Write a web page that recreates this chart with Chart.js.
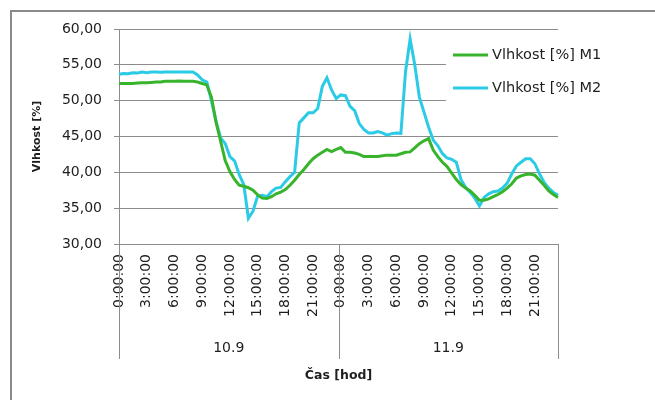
<!DOCTYPE html>
<html>
<head>
<meta charset="utf-8">
<script src="https://cdn.jsdelivr.net/npm/chart.js@4"></script>
<style>
  html, body { margin: 0; padding: 0; background: #fff; }
  #wrap { width: 655px; height: 400px; position: relative; }
</style>
</head>
<body>
<div id="wrap"><canvas id="chart" width="655" height="400"></canvas></div>
<script>
// days and the labelled hours of the time axis
const days = ['10.9', '11.9'];
const tickLabels = ['0:00:00', '3:00:00', '6:00:00', '9:00:00', '12:00:00', '15:00:00', '18:00:00', '21:00:00'];

// readings every 30 minutes, 10.9 0:00 .. 11.9 23:30
const m1 = [
  52.4, 52.4, 52.4, 52.4, 52.45, 52.5, 52.5, 52.55, 52.6, 52.6,
  52.7, 52.7, 52.7, 52.75, 52.7, 52.7, 52.7, 52.6, 52.4, 52.2,
  50.5, 47.0, 44.3, 41.6, 40.1, 39.0, 38.2, 38.05, 37.85, 37.5,
  36.85, 36.4, 36.35, 36.6, 37.0, 37.25, 37.6, 38.2, 38.9, 39.7,
  40.4, 41.2, 41.9, 42.4, 42.8, 43.2, 42.9, 43.2, 43.45, 42.8,
  42.8, 42.7, 42.5, 42.2, 42.2, 42.2, 42.2, 42.3, 42.4, 42.4,
  42.4, 42.6, 42.8, 42.85, 43.4, 44.0, 44.4, 44.7, 43.1, 42.2,
  41.4, 40.8, 39.9, 39.0, 38.3, 37.8, 37.4, 36.8, 36.1, 36.1,
  36.3, 36.6, 36.9, 37.3, 37.8, 38.4, 39.2, 39.5, 39.7, 39.75,
  39.6, 38.9, 38.2, 37.4, 36.9, 36.5
];
const m2 = [
  53.7, 53.8, 53.75, 53.9, 53.85, 54.0, 53.9, 54.0, 54.0, 53.95,
  54.0, 54.0, 54.0, 54.0, 54.0, 54.0, 54.0, 53.6, 52.9, 52.6,
  50.0, 47.1, 44.8, 44.0, 42.2, 41.6, 39.7, 38.3, 33.6, 34.6,
  36.7, 36.8, 36.6, 37.3, 37.8, 37.9, 38.7, 39.4, 40.0, 46.9,
  47.6, 48.3, 48.3, 48.9, 52.0, 53.2, 51.5, 50.3, 50.8, 50.7,
  49.2, 48.6, 46.8, 46.0, 45.5, 45.5, 45.7, 45.5, 45.2, 45.4,
  45.5, 45.45, 54.0, 58.6, 55.0, 50.5, 48.4, 46.3, 44.5, 43.7,
  42.6, 42.0, 41.8, 41.4, 39.0, 37.9, 37.2, 36.4, 35.3, 36.5,
  37.0, 37.3, 37.4, 37.8, 38.5, 39.8, 40.9, 41.4, 41.9, 41.9,
  41.2, 39.8, 38.6, 37.8, 37.2, 36.8
];

// category labels: every half hour of both days
const times = [];
days.forEach(() => {
  for (let h = 0; h < 24; h++) {
    times.push(h + ':00:00');
    times.push(h + ':30:00');
  }
});

const gridGray = '#8c8c8c';
const textColor = '#1e1e1e';
const fontFamily = '"DejaVu Sans", sans-serif';

// frame, day separators and legend box (Excel style)
const decorPlugin = {
  id: 'decor',
  beforeDraw(chart) {
    const ctx = chart.ctx;
    ctx.save();
    ctx.fillStyle = '#fff';
    ctx.fillRect(0, 0, chart.width, chart.height);
    ctx.strokeStyle = '#8a8a8a';
    ctx.lineWidth = 2;
    ctx.beginPath();
    ctx.moveTo(11, chart.height);
    ctx.lineTo(11, 11);
    ctx.lineTo(chart.width, 11);
    ctx.stroke();
    ctx.restore();
  },
  afterDatasetsDraw(chart) {
    const ctx = chart.ctx;
    const x = chart.scales.x;
    const day = chart.scales.day;
    const area = chart.chartArea;
    const mid = (x.getPixelForValue(47) + x.getPixelForValue(48)) / 2;
    ctx.save();
    ctx.strokeStyle = gridGray;
    ctx.lineWidth = 1;
    [area.left, mid, area.right].forEach(px => {
      ctx.beginPath();
      ctx.moveTo(Math.round(px) + 0.5, area.bottom);
      ctx.lineTo(Math.round(px) + 0.5, day.top + 25);
      ctx.stroke();
    });

    // legend over the plot
    ctx.fillStyle = '#fff';
    ctx.fillRect(446, 36, 200, 76);
    ctx.font = '14.5px ' + fontFamily;
    ctx.textBaseline = 'middle';
    chart.data.datasets.forEach((ds, i) => {
      const y = 55 + i * 33;
      ctx.strokeStyle = ds.borderColor;
      ctx.lineWidth = 3;
      ctx.beginPath();
      ctx.moveTo(453, y);
      ctx.lineTo(488, y);
      ctx.stroke();
      ctx.fillStyle = textColor;
      ctx.fillText(ds.label, 492, y);
    });
    ctx.restore();
  }
};

new Chart(document.getElementById('chart'), {
  type: 'line',
  data: {
    labels: times,
    datasets: [
      {
        label: 'Vlhkost [%] M1',
        data: m1,
        borderColor: '#38b42c',
        backgroundColor: '#38b42c',
        borderWidth: 3,
        pointRadius: 0,
        tension: 0,
        fill: false
      },
      {
        label: 'Vlhkost [%] M2',
        data: m2,
        borderColor: '#2bcbe6',
        backgroundColor: '#2bcbe6',
        borderWidth: 3,
        pointRadius: 0,
        tension: 0,
        fill: false
      }
    ]
  },
  options: {
    responsive: false,
    animation: false,
    layout: { padding: { top: 29, right: 97, bottom: 6, left: 0 } },
    plugins: {
      legend: { display: false },
      tooltip: { enabled: false }
    },
    scales: {
      x: {
        type: 'category',
        offset: false,
        weight: 0,
        afterFit(scale) { scale.height = 90; },
        grid: { display: false, drawTicks: false },
        border: { display: false },
        ticks: {
          autoSkip: false,
          minRotation: 90,
          maxRotation: 90,
          padding: 10,
          color: textColor,
          font: { family: fontFamily, size: 14 },
          callback(value, index) {
            const t = times[index];
            return index % 6 === 0 && tickLabels.includes(t) ? t : '';
          }
        }
      },
      day: {
        type: 'category',
        labels: days,
        position: 'bottom',
        offset: true,
        weight: 1,
        afterFit(scale) { scale.height = 60; },
        grid: { display: false, drawTicks: false },
        border: { display: false },
        ticks: {
          autoSkip: false,
          maxRotation: 0,
          padding: 6,
          color: textColor,
          font: { family: fontFamily, size: 14 }
        },
        title: {
          display: true,
          text: 'Čas [hod]',
          color: textColor,
          padding: { top: 0, bottom: 11 },
          font: { family: fontFamily, size: 12.5, weight: 'bold' }
        }
      },
      y: {
        min: 30,
        max: 60,
        afterFit(scale) { scale.width = 119; },
        grid: { color: gridGray, tickLength: 5, lineWidth: 1 },
        border: { display: true, color: gridGray },
        ticks: {
          stepSize: 5,
          padding: 12,
          color: textColor,
          font: { family: fontFamily, size: 14 },
          callback: v => v.toFixed(2).replace('.', ',')
        },
        title: {
          display: true,
          text: 'Vlhkost [%]',
          color: textColor,
          padding: { top: 31, bottom: 0 },
          font: { family: fontFamily, size: 11, weight: 'bold' }
        }
      }
    }
  },
  plugins: [decorPlugin]
});
</script>
</body>
</html>
